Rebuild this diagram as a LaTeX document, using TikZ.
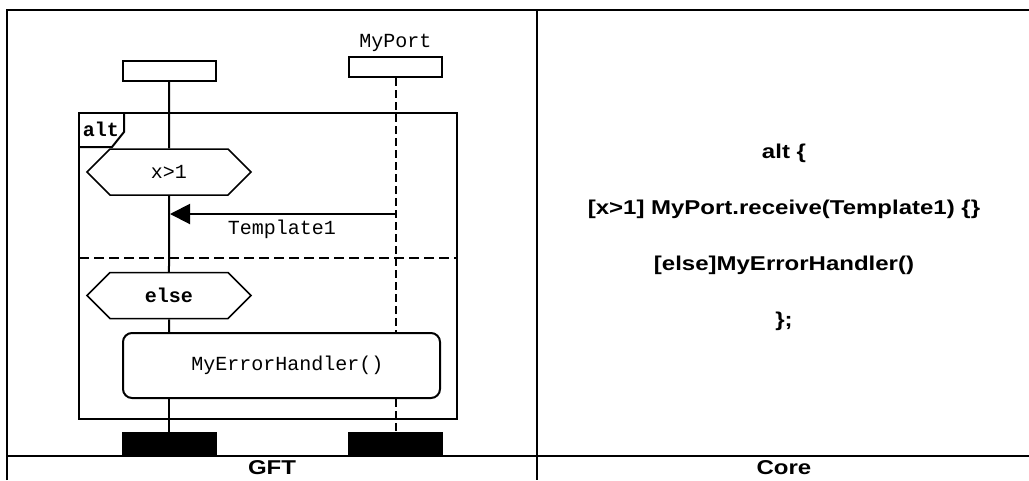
\documentclass[tikz,border=0pt]{standalone}
\usepackage{fontspec}
\setmainfont{Liberation Sans}
\setmonofont{Liberation Mono}
\newfontfamily\corefont{Liberation Sans}[FakeStretch=1.2]
\usetikzlibrary{arrows.meta,positioning,shapes.symbols}
\tikzset{
  inst/.style    ={rectangle, draw, line width=2pt, minimum width=93pt,
                   minimum height=20pt, inner sep=0pt},
  instend/.style ={inst, fill=black, minimum height=21pt},
  lifeline/.style={line width=2pt},
  portline/.style={line width=2pt, dash pattern=on 8pt off 4pt},
  frame/.style   ={line width=2pt, line join=miter},
  sep/.style     ={line width=2pt, dash pattern=on 10pt off 5pt},
  guard/.style   ={signal, signal to=west and east, signal pointer angle=90,
                   draw, line width=1.5pt, minimum width=164pt, minimum height=46pt,
                   inner sep=0pt, font=\fontsize{20}{24}\ttfamily},
  action/.style  ={rectangle, rounded corners=9pt, draw, line width=2pt,
                   minimum width=317pt, minimum height=65pt,
                   font=\fontsize{20}{24}\ttfamily},
  msg/.style     ={-{Triangle[length=20pt,width=20pt]}, line width=2pt},
  code/.style    ={font=\fontsize{20}{24}\ttfamily, inner sep=0pt},
  corecode/.style={font=\fontsize{20}{24}\corefont\bfseries, inner sep=0pt, anchor=base},
  tabline/.style ={line width=2pt},
}
\begin{document}
\begin{tikzpicture}[x=1pt, y=-1pt]
  \useasboundingbox (0,0) rectangle (1029,480);
  % table
  \draw[tabline] (7,480) -- (7,10) -- (1029,10);
  \draw[tabline] (537,10) -- (537,480);
  \draw[tabline] (7,456) -- (1029,456);
  \node[corecode] (gft) at (272,474) {GFT};
  \node[corecode] (core) at (784,474) {Core};

  % instances
  \node[inst] (ia) at (169,71) {};
  \node[inst] (ib) at (395.5,67) {};
  \node[code, above=4pt of ib] (port) {MyPort};

  % alt frame
  \draw[frame] (79,113) rectangle (457,419);
  \draw[frame] (79,147) -- (112,147) -- (124,132) -- (124,113);
  \node[code, font=\fontsize{20}{24}\ttfamily\bfseries] (altlbl) at (101,129) {alt};
  \draw[sep] (79,258) -- (457,258);

  \node[guard] (g1) at (169,172) {x>1};
  \node[guard, font=\fontsize{20}{24}\ttfamily\bfseries] (g2) at (169,295.5) {else};
  \node[action] (act) at (281.5,365.5) {\hspace{12pt}MyErrorHandler()};

  \node[instend] (ea) at (169,443.5) {};
  \node[instend] (eb) at (395.5,443.5) {};

  % lifelines
  \draw[lifeline] (ia) -- (g1);
  \draw[lifeline] (g1) -- (g2);
  \draw[lifeline] (g2) -- (g2 |- act.north);
  \draw[lifeline] (g2 |- act.south) -- (ea);
  \draw[portline] (ib) -- (ib |- act.north);
  \draw[portline] (ib |- act.south) -- (eb);

  % message
  \coordinate (rcvb) at (395.5,214);
  \coordinate (rcva) at (170,214);
  \draw[msg] (rcvb) -- (rcva);
  \node[code] (tpl) at (282,229) {Template1};

  % core notation
  \node[corecode] (c1) at (784,158.5) {alt \{};
  \node[corecode] (c2) at (784,214) {[x>1] MyPort.receive(Template1) \{\}};
  \node[corecode] (c3) at (784,270) {[else]MyErrorHandler()};
  \node[corecode] (c4) at (784,326) {\};};
\end{tikzpicture}
\end{document}
